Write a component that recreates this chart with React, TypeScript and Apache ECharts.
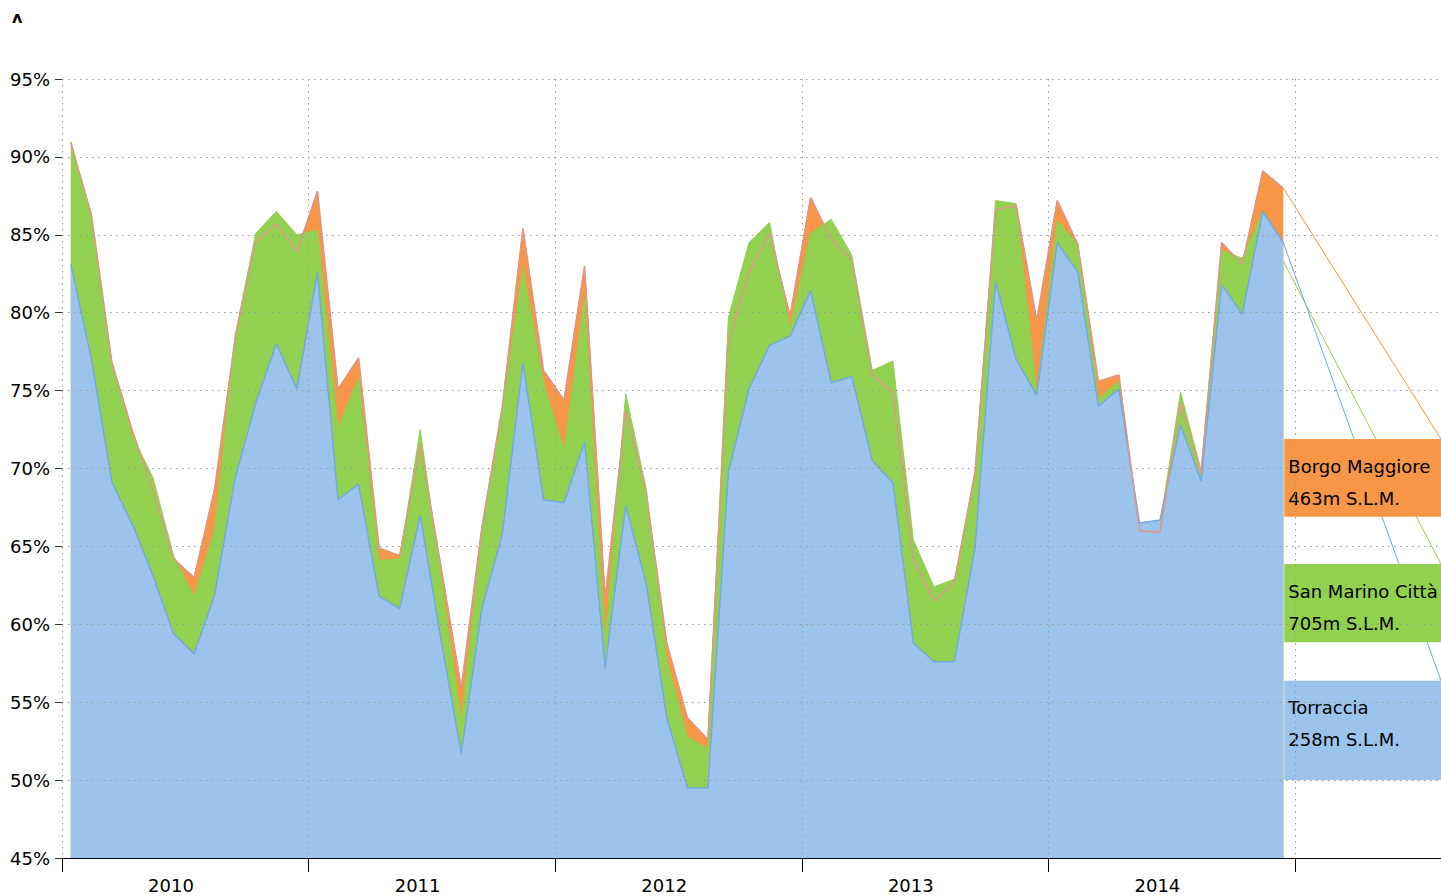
import React, { useEffect, useRef } from 'react';
import * as echarts from 'echarts';

// ---- data -------------------------------------------------------------
const YEARS = [2010, 2011, 2012, 2013, 2014];
const X_MAX = 2015.592; // axis runs past the data to make room for the station boxes
const MONTH_OFFSET = 0.43; // monthly mean placed inside its month

// Relative humidity (%) — monthly means, Jan 2010 .. Dec 2014
const torraccia = [
  83.1, 77.0, 69.1, 66.4, 63.1, 59.4, 58.1, 61.9, 69.4, 74.2, 78.0, 75.1,
  82.6, 68.0, 69.0, 61.8, 61.0, 67.0, 59.1, 51.7, 61.0, 65.8, 76.8, 68.0,
  67.8, 71.7, 57.2, 67.6, 62.6, 54.0, 49.5, 49.5, 69.8, 75.1, 77.9, 78.5,
  81.4, 75.5, 75.9, 70.5, 69.1, 58.8, 57.6, 57.6, 64.9, 82.0, 77.0, 74.7,
  84.5, 82.6, 74.0, 75.1, 66.5, 66.7, 72.8, 69.2, 81.8, 79.9, 86.5, 84.5,
];
const sanMarinoCitta = [
  91.0, 86.0, 76.6, 72.1, 69.4, 64.4, 61.8, 66.1, 78.6, 85.1, 86.5, 85.0,
  85.3, 72.6, 75.8, 64.1, 64.2, 72.5, 63.2, 53.8, 65.9, 73.7, 82.9, 75.5,
  71.2, 81.0, 59.0, 74.8, 68.7, 57.7, 52.8, 52.0, 79.7, 84.5, 85.8, 79.0,
  85.1, 86.0, 83.7, 76.3, 76.9, 65.4, 62.4, 62.9, 69.5, 87.2, 87.0, 74.8,
  85.9, 84.4, 74.5, 75.6, 66.2, 66.4, 74.9, 69.9, 84.0, 83.5, 86.5, 83.3,
];
const borgoMaggiore = [
  90.9, 86.3, 76.8, 72.4, 68.6, 64.2, 63.0, 68.7, 78.4, 84.6, 85.7, 83.9,
  87.8, 75.1, 77.1, 64.9, 64.4, 71.5, 63.8, 55.9, 66.2, 74.0, 85.4, 76.3,
  74.4, 83.0, 61.7, 73.7, 68.4, 58.8, 54.0, 52.6, 78.1, 82.6, 85.1, 79.8,
  87.4, 84.7, 83.4, 76.0, 74.9, 64.1, 61.5, 62.7, 69.8, 86.6, 86.9, 79.5,
  87.2, 84.4, 75.6, 76.0, 66.0, 65.9, 74.2, 69.7, 84.5, 83.1, 89.1, 88.0,
];

// station label boxes (order: Borgo Maggiore, San Marino Città, Torraccia)
const stationNames = ['Borgo Maggiore', 'San Marino Città', 'Torraccia'];
const stationAltitudes = ['463m S.L.M.', '705m S.L.M.', '258m S.L.M.'];
const boxLow = [66.91, 58.84, 50.0];
const boxHigh = [71.89, 63.87, 56.38];

// ---- styling ------------------------------------------------------------
const FONT = 'DejaVu Sans';
const ORANGE = '#F79646';
const GREEN = '#92D050';
const BLUE = '#9BC3EB';
const BLUE_LINE = '#72AAE2';
const ORANGE_LINE = '#E0968A';
const COLORS = [ORANGE, GREEN, BLUE];
const LEADER_COLORS = [ORANGE, GREEN, '#6FA8DC'];
const GRID_LINE = { color: '#9a9a9a', type: [1.5, 4.5] as number[], width: 1 };

const xOf = (i: number) => YEARS[0] + (i + MONTH_OFFSET) / 12;
const pairs = (arr: number[]) => arr.map((v, i) => [xOf(i), v]);

export default function App() {
  const ref = useRef<HTMLDivElement>(null);

  useEffect(() => {
    if (!ref.current) return;
    const chart = echarts.init(ref.current, undefined, { renderer: 'svg' });

    const seriesData = [borgoMaggiore, sanMarinoCitta, torraccia];
    const lastX = xOf(torraccia.length - 1);
    const boxLeft = lastX + 0.004;

    const areaSeries = seriesData.map((arr, k) => ({
      type: 'line',
      name: stationNames[k],
      data: pairs(arr),
      symbol: 'none',
      showSymbol: false,
      silent: true,
      z: 2 + k,
      lineStyle: {
        color: k === 2 ? BLUE_LINE : COLORS[k],
        width: k === 2 ? 1.5 : 1,
      },
      areaStyle: { color: COLORS[k], opacity: 1, origin: 'start' },
    }));

    const leaderSeries = seriesData.map((arr, k) => ({
      type: 'line',
      data: [
        [lastX, arr[arr.length - 1]],
        [X_MAX, boxHigh[k]],
      ],
      symbol: 'none',
      silent: true,
      z: 6,
      lineStyle: { color: LEADER_COLORS[k], width: 1 },
    }));

    const option: any = {
      animation: false,
      textStyle: { fontFamily: FONT },
      grid: {
        left: 62,
        top: 79,
        width: 1379,
        height: 779,
        containLabel: false,
        outerBoundsMode: 'none',
      },
      xAxis: {
        type: 'value',
        min: YEARS[0],
        max: X_MAX,
        interval: 1,
        z: 10,
        axisLine: { show: true, lineStyle: { color: '#000', width: 1 } },
        axisTick: { show: true, length: 14, lineStyle: { color: '#000', width: 1 } },
        axisLabel: {
          show: true,
          color: '#000',
          fontSize: 18,
          fontFamily: FONT,
          margin: 18,
          align: 'center',
          padding: [0, 0, 0, 218],
          formatter: (v: number) =>
            YEARS.indexOf(Math.round(v)) >= 0 && Math.abs(v - Math.round(v)) < 1e-6
              ? String(Math.round(v))
              : '',
        },
        splitLine: { show: true, lineStyle: GRID_LINE },
      },
      yAxis: {
        type: 'value',
        min: 45,
        max: 95,
        interval: 5,
        z: 10,
        axisLine: { show: false },
        axisTick: { show: true, length: 7, lineStyle: { color: '#333', width: 1 } },
        axisLabel: {
          color: '#000',
          fontSize: 18,
          fontFamily: FONT,
          margin: 12,
          formatter: '{value}%',
        },
        splitLine: { show: true, lineStyle: GRID_LINE },
      },
      graphic: [
        {
          type: 'text',
          left: 12,
          top: 9,
          style: { text: 'ʌ', font: `bold 16px "${FONT}"`, fill: '#000' },
        },
      ],
      series: [
        ...areaSeries,
        {
          type: 'line',
          name: 'Borgo Maggiore line',
          data: pairs(borgoMaggiore),
          symbol: 'none',
          silent: true,
          z: 5,
          lineStyle: { color: ORANGE_LINE, width: 1.5 },
        },
        ...leaderSeries,
        {
          type: 'line',
          data: [],
          silent: true,
          z: 7,
          markArea: {
            z: 7,
            silent: true,
            label: {
              show: true,
              position: 'insideTopLeft',
              distance: 0,
              padding: [11, 0, 0, 4],
              color: '#000',
              fontSize: 18,
              fontFamily: FONT,
              lineHeight: 32,
            },
            data: stationNames.map((n, k) => [
              {
                name: `${n}\n${stationAltitudes[k]}`,
                xAxis: boxLeft,
                yAxis: boxHigh[k],
                itemStyle: { color: COLORS[k], opacity: 1 },
              },
              { xAxis: X_MAX, yAxis: boxLow[k] },
            ]),
          },
        },
      ],
    };

    chart.setOption(option);
    return () => chart.dispose();
  }, []);

  return (
    <div
      ref={ref}
      style={{ position: 'fixed', left: 0, top: 0, width: 1441, height: 896, background: '#fff' }}
    />
  );
}
